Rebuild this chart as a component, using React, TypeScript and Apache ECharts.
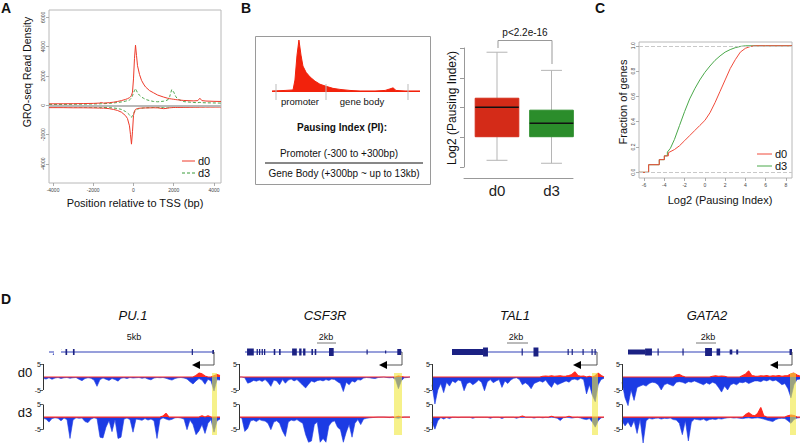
import React, { useEffect, useRef } from "react";
import * as echarts from "echarts";

const FONT = "'Liberation Sans', Arial, Helvetica, sans-serif";

// ---------- Panel A: metagene profile ----------
const aPositions = [-4200, -3500, -3000, -2500, -2000, -1700, -1600, -1500, -1200, -1000,
  -800, -600, -400, -300, -200, -150, -100, -50, 0, 50,
  100, 150, 200, 300, 400, 500, 600, 800, 1000, 1200,
  1500, 1700, 1800, 1900, 2000, 2100, 2200, 2500, 3000, 3200,
  3300, 3400, 3600, 4000, 4350];
const aD0Sense = [100, 105, 110, 120, 130, 150, 190, 150, 180, 210,
  260, 320, 400, 450, 520, 580, 680, 900, 1800, 3200,
  4100, 3400, 2700, 2100, 1700, 1450, 1250, 1000, 850, 700,
  560, 480, 450, 430, 410, 390, 370, 330, 300, 320,
  480, 320, 290, 270, 260];
const aD0Antisense = [-160, -160, -170, -170, -180, -190, -200, -190, -230, -280,
  -350, -470, -700, -900, -1400, -2000, -2650, -1800, -700, -400,
  -280, -240, -220, -200, -190, -185, -180, -175, -170, -175,
  -230, -200, -170, -160, -150, -150, -145, -140, -130, -130,
  -125, -125, -120, -120, -115];
const aD3Sense = [60, 60, 70, 80, 90, 100, 110, 110, 130, 160,
  190, 230, 280, 320, 360, 420, 500, 650, 850, 1000,
  1140, 1000, 850, 680, 560, 480, 400, 320, 260, 240,
  280, 360, 600, 1070, 900, 600, 420, 250, 190, 180,
  200, 180, 170, 160, 150];
const aD3Antisense = [-100, -100, -110, -120, -130, -140, -140, -150, -160, -180,
  -220, -280, -420, -520, -650, -750, -820, -700, -560, -450,
  -360, -300, -260, -220, -200, -180, -170, -160, -150, -150,
  -140, -130, -130, -130, -120, -120, -115, -110, -100, -100,
  -100, -95, -95, -90, -90];
const aTicksX = [-4000, -2000, 0, 2000, 4000];
const aTicksY = [-4000, -2000, 0, 2000, 4000, 6000];

// ---------- Panel B: schematic ----------
const bPositions = [0, 8.8, 14.2, 15.5, 16.9, 18.2, 19.6, 20.9, 23, 25.7, 29, 32.4, 36.5, 41.2, 45.9, 52.7, 59.5, 69.6, 76.4, 79.7, 81.8, 83.8, 89.9, 100];
const bSignal = [2, 3, 4, 23, 71, 100, 71, 50, 38, 29, 21, 15, 11, 7, 5, 3, 2, 2, 3, 6, 8, 3, 2, 2];

// ---------- Panel B: boxplot ----------
const boxGroups = ["d0", "d3"];
const boxLow = [-3.6, -3.8];
const boxQ1 = [-2, -2];
const boxMedian = [0, -1.08];
const boxQ3 = [0.61, -0.2];
const boxHigh = [3.73, 2.5];

// ---------- Panel C: ECDF ----------
const cD0X = [-6.5, -5.55, -5.55, -4.5, -4.5, -4.0, -4.0, -3.6, -3.6, -3.0, -2.5, -2.0, -1.5, -1.0, -0.5, 0, 0.5, 1.0, 1.5, 2.0, 2.5, 3.0, 3.5, 4.0, 4.5, 5.0, 6.0, 8.6];
const cD0Y = [0, 0, 0.06, 0.06, 0.10, 0.10, 0.13, 0.13, 0.155, 0.18, 0.21, 0.25, 0.29, 0.33, 0.37, 0.41, 0.47, 0.55, 0.64, 0.73, 0.82, 0.89, 0.95, 0.98, 0.995, 1, 1, 1];
const cD3X = [-6.5, -5.55, -5.55, -4.5, -4.5, -4.0, -4.0, -3.7, -3.7, -3.4, -3.0, -2.5, -2.0, -1.5, -1.0, -0.5, 0, 0.5, 1.0, 1.5, 2.0, 2.5, 3.0, 3.5, 4.0, 6.0, 8.6];
const cD3Y = [0, 0, 0.06, 0.06, 0.10, 0.10, 0.13, 0.13, 0.16, 0.19, 0.26, 0.37, 0.48, 0.58, 0.66, 0.73, 0.79, 0.84, 0.885, 0.92, 0.95, 0.97, 0.985, 0.995, 1, 1, 1];
const cTicksX = [-6, -4, -2, 0, 2, 4, 6, 8];
const cTicksY = [0, 0.2, 0.4, 0.6, 0.8, 1.0];

// ---------- Panel D: browser tracks ----------
const geneNames = ["PU.1", "CSF3R", "TAL1", "GATA2"];
const scaleLabels = ["5kb", "2kb", "2kb", "2kb"];
const trackNames = ["d0", "d3"];
const trackTicks = [5, -5];

const pu1D0Minus = [-0.5, -0.8, -0.3, -0.9, -0.4, -0.2, -0.6, -0.3, -0.2, -0.5,
  -0.3, -0.2, -0.9, -1.4, -0.6, -0.3, -0.5, -1.2, -3.6, -1.0,
  -0.4, -0.9, -1.3, -0.6, -1.0, -1.6, -0.5, -0.3, -0.6, -0.2,
  -0.4, -0.3, -0.2, -0.5, -0.3, -0.8, -1.1, -0.4, -0.2, -0.3,
  -0.2, -0.5, -0.9, -1.2, -0.6, -0.3, -0.2, -0.4, -0.8, -1.8,
  -2.7, -1.5, -0.6, -1.2, -2.8, -0.9, -1.5, -5.4, -1.0, -1.2];
const pu1D0Plus = [0, 0, 0, 0, 0, 0, 0, 0, 0, 0,
  0, 0, 0, 0, 0, 0, 0, 0, 0, 0,
  0, 0, 0, 0, 0, 0, 0, 0, 0, 0,
  0, 0, 0, 0, 0, 0, 0, 0, 0, 0,
  0, 0, 0, 0, 0, 0, 0, 0, 0, 0,
  0, 0.6, 1.5, 1.2, 0.4, 0, 0, 0.5, 1.0, 0.6];
const pu1D3Minus = [-0.5, -0.8, -2.0, -0.6, -0.3, -0.5, -1.5, -0.4, -1.0, -8.5,
  -1.2, -0.3, -0.5, -0.4, -1.8, -2.2, -0.8, -0.3, -0.6, -8.0,
  -8.3, -4.0, -1.5, -5.8, -1.0, -8.5, -8.0, -0.8, -0.4, -1.0,
  -6.0, -0.8, -1.0, -1.3, -0.6, -1.2, -0.8, -1.5, -8.5, -1.0,
  -0.3, -0.8, -1.2, -0.9, -0.3, -0.2, -0.4, -0.8, -5.0, -1.2,
  -3.0, -7.0, -5.5, -3.0, -6.5, -2.5, -1.0, -6.0, -1.5, -0.8];
const pu1D3Plus = [0, 0, 0, 0, 0, 0, 0, 0, 0, 0,
  0, 0, 0, 0, 0, 0, 0, 0, 0, 0,
  0, 0, 0, 0, 0, 0, 0, 0, 0, 0,
  0, 0, 0, 0, 0, 0, 0, 0, 0, 0,
  0.4, 1.5, 0, 0, 0, 0, 0, 0, 0, 0,
  0, 0, 0, 0.5, 0, 0.5, 0, 0, 0, 0];

const csf3rD0Minus = [0, 0, -0.3, -2.4, -2.0, -1.3, -1.6, -1.2, -1.7, -1.0,
  -2.0, -3.6, -1.2, -1.5, -3.0, -1.0, -2.4, -1.2, -0.8, -1.5,
  -1.0, -2.0, -3.2, -4.2, -2.8, -1.5, -2.0, -1.4, -1.2, -1.5,
  -1.0, -1.3, -0.8, -1.0, -1.8, -2.5, -5.6, -2.0, -3.0, -1.5,
  -2.0, -1.0, -1.2, -0.4, -0.2, -0.3, -0.5, -0.6, -0.2, -0.1,
  0, -0.2, -0.3, -0.2, -1.0, -4.5, -1.5, -0.3, -0.2, 0];
const csf3rD0Plus = [0, 0, 0, 0, 0, 0, 0, 0, 0, 0,
  0, 0, 0, 0, 0, 0, 0, 0, 0, 0,
  0, 0, 0, 0, 0, 0, 0, 0, 0, 0,
  0, 0, 0, 0, 0, 0, 0, 0, 0, 0,
  0, 0, 0, 0, 0, 0, 0, 0, 0, 0,
  0, 0, 0, 0, 0, 0.4, 0.2, 0, 0, 0];
const csf3rD3Minus = [0, -0.5, -5.7, -4.5, -1.5, -1.2, -1.8, -1.0, -1.4, -1.6,
  -2.5, -5.0, -2.0, -1.5, -2.5, -5.5, -7.7, -2.0, -1.2, -1.5,
  -1.0, -1.8, -2.5, -7.0, -10, -9.5, -3.0, -2.0, -10, -8.5,
  -10, -3.5, -2.0, -1.5, -4.0, -5.0, -10, -6.0, -3.0, -8.0,
  -2.5, -1.0, -3.0, -0.8, -0.5, -0.3, -0.2, -0.1, 0, 0,
  0, -0.1, -0.2, 0, -0.3, -0.5, -0.2, 0, 0, 0];
const csf3rD3Plus = [0, 0, 0, 0, 0, 0, 0, 0, 0, 0,
  0, 0, 0, 0, 0, 0, 0, 0, 0, 0,
  0, 0, 0, 0, 0, 0, 0, 0, 0, 0,
  0, 0, 0, 0, 0, 0, 0, 0, 0, 0,
  0, 0, 0, 0, 0, 0, 0, 0, 0, 0,
  0, 0, 0, 0, 0, 0.3, 0, 0, 0, 0];

const tal1D0Minus = [-3.0, -10.4, -5.0, -2.5, -6.0, -2.0, -3.5, -1.5, -2.2, -1.2,
  -1.5, -5.3, -2.5, -2.0, -3.0, -2.2, -1.2, -2.0, -5.3, -1.8,
  -1.0, -2.2, -1.5, -1.0, -4.0, -1.5, -2.5, -1.2, -0.5, -0.3,
  -1.0, -3.0, -2.2, -3.0, -4.5, -2.5, -2.0, -1.5, -2.0, -1.2,
  -2.8, -4.0, -2.0, -3.0, -2.5, -2.0, -1.5, -2.0, -1.0, -0.8,
  -1.2, -0.5, -1.0, -6.5, -3.0, -7.0, -9.5, -3.0, -1.0, -0.5];
const tal1D0Plus = [0, 0, 0, 0, 0, 0, 0, 0, 0, 0,
  0, 0, 0, 0, 0, 0, 0, 0, 0, 0,
  0, 0, 0, 0, 0, 0, 0, 0, 0, 0,
  0, 0, 0, 0, 0, 0, 0, 0, 0.3, 0.4,
  0.3, 0.5, 0.3, 0.4, 0.5, 0.3, 0.4, 0.6, 1.0, 2.0,
  0.6, 0.3, 0.4, 0, 0.3, 0, 0.5, 1.5, 0.6, 0];
const tal1D3Minus = [-2.0, -4.8, -1.5, -0.2, -0.8, -0.2, -0.6, -0.1, -0.1, -0.2,
  -0.1, -0.1, -0.1, -0.1, -0.5, -0.1, -0.1, -0.1, -0.1, -0.1,
  -0.5, -0.1, -0.1, -0.1, -0.6, -0.1, -0.1, -0.1, -0.1, -0.5,
  -0.1, -0.2, -0.1, -0.1, -0.1, -0.4, -0.1, -0.1, -0.3, -0.1,
  -0.2, -0.1, -0.2, -0.5, -1.4, -0.3, -0.1, -0.2, -0.4, -0.2,
  -0.1, -0.4, -0.8, -1.0, -0.6, -2.0, -4.0, -1.5, -0.3, -0.1];
const tal1D3Plus = [0, 0, 0, 0, 0, 0, 0, 0, 0, 0,
  0, 0, 0, 0, 0, 0, 0, 0, 0, 0,
  0, 0, 0, 0, 0, 0, 0, 0, 0, 0,
  0, 0.4, 0, 0, 0, 0, 0, 0, 0, 0,
  0, 0.3, 0, 0, 0, 0, 0, 0.3, 0, 0,
  0, 0, 0, 0, 0, 0, 0, 0, 0, 0];

const gata2D0Minus = [-2.0, -8.0, -11.0, -5.0, -9.0, -4.0, -3.5, -3.0, -3.5, -2.5,
  -2.0, -2.2, -3.0, -5.0, -3.0, -2.5, -3.0, -3.5, -2.0, -1.8,
  -2.0, -2.5, -1.8, -2.0, -1.5, -2.0, -2.5, -3.0, -2.2, -2.8,
  -2.0, -2.5, -4.0, -5.8, -3.5, -5.0, -3.0, -2.5, -3.0, -2.0,
  -2.2, -1.8, -2.5, -2.0, -1.5, -1.5, -1.8, -1.2, -1.5, -1.0,
  -1.5, -1.2, -2.0, -3.0, -2.5, -4.5, -8.0, -3.0, -1.0, -0.8];
const gata2D0Plus = [0, 0, 0, 0, 0, 0, 0, 0, 0, 0,
  0, 0, 0, 0, 0, 0, 0, 0, 0.8, 1.0,
  0.4, 0, 0, 0, 0, 0, 0, 0, 0, 0,
  0.3, 0.5, 0.3, 0.4, 0.3, 0, 0, 0, 0, 0,
  0.6, 1.2, 2.3, 0.6, 0.4, 0.3, 0.5, 0.4, 0.6, 0.3,
  0.5, 0.4, 0.6, 0.3, 0.5, 0.6, 1.2, 1.5, 0.8, 0.3];
const gata2D3Minus = [-1.5, -3.5, -2.0, -4.0, -1.5, -6.5, -1.0, -10.3, -1.5, -0.5,
  -0.8, -0.5, -0.4, -0.8, -0.5, -0.6, -0.4, -1.0, -1.2, -2.5,
  -7.0, -1.5, -9.5, -2.0, -0.8, -1.0, -1.2, -0.8, -1.5, -1.0,
  -0.8, -1.0, -0.6, -0.8, -0.5, -0.3, -0.2, -0.4, -0.3, -0.5,
  -0.6, -0.4, -0.3, -0.5, -0.4, -0.3, -0.5, -0.8, -1.2, -1.5,
  -1.8, -1.0, -0.6, -0.5, -0.6, -1.5, -2.5, -1.0, -0.4, -0.2];
const gata2D3Plus = [0, 0, 0, 0, 0, 0, 0, 0, 0, 0,
  0, 0, 0, 0, 0, 0, 0, 0, 0, 0,
  0, 0, 0, 0, 0, 0, 0, 0, 0, 0,
  0, 0, 0, 0, 0, 0, 0, 0, 0, 0,
  0, 1.0, 1.7, 0.8, 0.5, 1.5, 3.8, 0.5, 0, 0,
  0, 0, 0, 0, 0, 0.5, 0.8, 0.6, 0, 0];

const trackMinus = [[pu1D0Minus, pu1D3Minus], [csf3rD0Minus, csf3rD3Minus], [tal1D0Minus, tal1D3Minus], [gata2D0Minus, gata2D3Minus]];
const trackPlus = [[pu1D0Plus, pu1D3Plus], [csf3rD0Plus, csf3rD3Plus], [tal1D0Plus, tal1D3Plus], [gata2D0Plus, gata2D3Plus]];

// exon structures: [start fraction, end fraction, half height px]
const geneExons = [
  [[0.10, 0.11, 3], [0.145, 0.155, 3], [0.865, 0.872, 3], [0.99, 1.0, 2]],
  [[0.013, 0.056, 3.5], [0.074, 0.082, 3], [0.089, 0.097, 3], [0.106, 0.114, 3], [0.121, 0.129, 3], [0.183, 0.193, 3], [0.217, 0.227, 3], [0.30, 0.33, 3.5], [0.345, 0.36, 3.5], [0.37, 0.385, 3.5], [0.423, 0.433, 3], [0.444, 0.454, 3], [0.535, 0.565, 4], [0.774, 0.78, 2.5], [0.892, 0.897, 1.5], [0.97, 0.995, 3]],
  [[0, 0.214, 3], [0.214, 0.248, 4.5], [0.48, 0.487, 3.5], [0.562, 0.596, 4.5], [0.797, 0.804, 3], [0.825, 0.832, 3], [0.9, 0.907, 3], [0.962, 0.969, 3], [0.983, 0.99, 3]],
  [[0, 0.104, 2.5], [0.104, 0.146, 3.5], [0.18, 0.187, 3.5], [0.332, 0.339, 3.5], [0.47, 0.512, 4], [0.54, 0.562, 3.5], [0.62, 0.636, 2.5], [0.66, 0.672, 2.5], [0.985, 1.0, 3]],
];

// ---------- layout (pixels) ----------
const trackCols = [
  { left: 43, width: 177 },
  { left: 239, width: 171 },
  { left: 432, width: 172 },
  { left: 622, width: 178 },
];
const trackBaselines = [377, 417.5];
const TRACK_MAX = 5;
const TRACK_MIN = -11.5;
const PX_PER_UNIT = 2.6;
const geneCols = [
  { x0: 49, x1: 214, tip: 192, cx: 133, bar: null as null | number[], hx: 212, hw: 5 },
  { x0: 245, x1: 402, tip: 379, cx: 325, bar: [317, 336], hx: 394, hw: 8 },
  { x0: 452, x1: 597, tip: 573, cx: 515, bar: [507, 528], hx: 592, hw: 6 },
  { x0: 628, x1: 792, tip: 770, cx: 707, bar: [696, 716], hx: 790, hw: 6 },
];

const RED_A = "#ee3b2b";
const GREEN_A = "#3a9c3a";
const BLUE_T = "#1c3be4";
const RED_T = "#ff2a22";

function txt(text: string, x: number, y: number, size: number, extra: any = {}) {
  return {
    type: "text",
    x,
    y,
    rotation: extra.rotation || 0,
    z: 50,
    silent: true,
    style: {
      text,
      fontSize: size,
      fontFamily: FONT,
      fontWeight: extra.bold ? "bold" : "normal",
      fontStyle: extra.italic ? "italic" : "normal",
      fill: extra.color || "#111",
      align: extra.align || "center",
      verticalAlign: "middle",
    },
  };
}
function ln(x1: number, y1: number, x2: number, y2: number, stroke: string, lineWidth = 1, extra: any = {}) {
  return { type: "line", z: 40, silent: true, shape: { x1, y1, x2, y2 }, style: { stroke, lineWidth, lineDash: extra.dash || null } };
}

function buildOption() {
  const grid: any[] = [];
  const xAxis: any[] = [];
  const yAxis: any[] = [];
  const series: any[] = [];
  const g: any[] = [];
  const pair = (xs: number[], ys: number[]) => xs.map((x, i) => [x, ys[i]]);
  const tinyLabel = { fontSize: 5, color: "#444", fontFamily: FONT };
  const noLine = { show: false, onZero: false };

  // ===== A (grid 0) =====
  grid.push({ left: 49, top: 10, width: 172, height: 173, show: true, borderColor: "#b8b8b8", borderWidth: 1 });
  xAxis.push({
    gridIndex: 0, type: "value", min: -4200, max: 4350,
    axisLine: noLine, splitLine: { show: false },
    axisTick: { show: true, customValues: aTicksX, length: 3, lineStyle: { color: "#999", width: 0.8 } },
    axisLabel: { ...tinyLabel, customValues: aTicksX, margin: 4, formatter: (v: number) => String(v) },
  });
  yAxis.push({
    gridIndex: 0, type: "value", min: -5300, max: 6500,
    axisLine: noLine, splitLine: { show: false },
    axisTick: { show: true, customValues: aTicksY, length: 3, lineStyle: { color: "#999", width: 0.8 } },
    axisLabel: { ...tinyLabel, customValues: aTicksY, rotate: 90, margin: 4, formatter: (v: number) => String(v) },
  });
  const aCommon = { type: "line", xAxisIndex: 0, yAxisIndex: 0, showSymbol: false, silent: true };
  series.push({
    ...aCommon, name: "d3 antisense", data: pair(aPositions, aD3Antisense),
    lineStyle: { color: GREEN_A, width: 0.9, type: [3, 2] },
    markLine: { silent: true, symbol: "none", label: { show: false }, lineStyle: { color: "#b8b8b8", width: 2, type: "solid" }, data: [{ yAxis: 0 }] },
  });
  series.push({ ...aCommon, name: "d3 sense", data: pair(aPositions, aD3Sense), lineStyle: { color: GREEN_A, width: 0.9, type: [3, 2] } });
  series.push({ ...aCommon, name: "d0 sense", data: pair(aPositions, aD0Sense), lineStyle: { color: RED_A, width: 1 } });
  series.push({ ...aCommon, name: "d0 antisense", data: pair(aPositions, aD0Antisense), lineStyle: { color: RED_A, width: 1 } });

  // ===== B schematic (grid 1) =====
  grid.push({ left: 272, top: 38, width: 148, height: 54 });
  xAxis.push({ gridIndex: 1, type: "value", min: 0, max: 100, show: false });
  yAxis.push({ gridIndex: 1, type: "value", min: 0, max: 104, show: false });
  series.push({
    type: "line", xAxisIndex: 1, yAxisIndex: 1, showSymbol: false, silent: true,
    data: pair(bPositions, bSignal),
    lineStyle: { color: "#f2220c", width: 1 },
    areaStyle: { color: "#f2220c", opacity: 1 },
  });

  // ===== Boxplot axes only (grid 2) =====
  grid.push({ left: 464, top: 48, width: 109, height: 119 });
  xAxis.push({
    gridIndex: 2, type: "value", min: 0, max: 1, offset: 11,
    axisLine: { show: true, onZero: false, lineStyle: { color: "#999", width: 1 } },
    axisTick: { show: false }, axisLabel: { show: false }, splitLine: { show: false },
  });
  yAxis.push({
    gridIndex: 2, type: "value", min: -4, max: 4, interval: 2,
    axisLine: { show: true, onZero: false, lineStyle: { color: "#999", width: 1 } },
    axisTick: { show: true, length: 4, lineStyle: { color: "#999" } },
    axisLabel: { show: false }, splitLine: { show: false },
  });

  // ===== Boxplot (grid 3) =====
  grid.push({ left: 469.75, top: 33.5, width: 109, height: 144.5 });
  xAxis.push({
    gridIndex: 3, type: "category", data: boxGroups,
    axisLine: noLine, axisTick: { show: false },
    axisLabel: { fontSize: 15, color: "#222", margin: 5, fontFamily: FONT },
  });
  yAxis.push({ gridIndex: 3, type: "value", min: -4.8, max: 5, show: false });
  const boxColors = ["#d42b18", "#2b8d2b"];
  series.push({
    type: "custom", xAxisIndex: 3, yAxisIndex: 3, silent: true,
    data: boxGroups.map((_, i) => [i, boxLow[i], boxQ1[i], boxMedian[i], boxQ3[i], boxHigh[i]]),
    encode: { x: 0, y: [1, 2, 3, 4, 5] },
    renderItem: (params: any, api: any) => {
      const xi = api.value(0);
      const low = api.coord([xi, api.value(1)]);
      const q1 = api.coord([xi, api.value(2)]);
      const med = api.coord([xi, api.value(3)]);
      const q3 = api.coord([xi, api.value(4)]);
      const high = api.coord([xi, api.value(5)]);
      const bw = api.size([1, 0])[0] * 0.8;
      const cx = low[0];
      const cap = bw * 0.24;
      const color = boxColors[xi];
      const ws = { stroke: "#b5b5b5", lineWidth: 1 };
      return {
        type: "group",
        children: [
          { type: "line", shape: { x1: cx, y1: high[1], x2: cx, y2: q3[1] }, style: ws },
          { type: "line", shape: { x1: cx, y1: q1[1], x2: cx, y2: low[1] }, style: ws },
          { type: "line", shape: { x1: cx - cap, y1: high[1], x2: cx + cap, y2: high[1] }, style: ws },
          { type: "line", shape: { x1: cx - cap, y1: low[1], x2: cx + cap, y2: low[1] }, style: ws },
          { type: "rect", shape: { x: cx - bw / 2, y: q3[1], width: bw, height: q1[1] - q3[1] }, style: { fill: color, stroke: color, lineWidth: 1 } },
          { type: "line", shape: { x1: cx - bw / 2, y1: med[1], x2: cx + bw / 2, y2: med[1] }, style: { stroke: "#111", lineWidth: 1.5 } },
        ],
      };
    },
  });

  // ===== C (grid 4) =====
  grid.push({ left: 639, top: 42, width: 153, height: 136, show: true, borderColor: "#b8b8b8", borderWidth: 1 });
  xAxis.push({
    gridIndex: 4, type: "value", min: -6.5, max: 8.6,
    axisLine: noLine, splitLine: { show: false },
    axisTick: { show: true, customValues: cTicksX, length: 3, lineStyle: { color: "#999", width: 0.8 } },
    axisLabel: { ...tinyLabel, customValues: cTicksX, margin: 4 },
  });
  yAxis.push({
    gridIndex: 4, type: "value", min: -0.045, max: 1.03,
    axisLine: noLine, splitLine: { show: false },
    axisTick: { show: true, customValues: cTicksY, length: 3, lineStyle: { color: "#999", width: 0.8 } },
    axisLabel: { ...tinyLabel, customValues: cTicksY, rotate: 90, margin: 4, formatter: (v: number) => v.toFixed(1) },
  });
  series.push({
    type: "line", xAxisIndex: 4, yAxisIndex: 4, showSymbol: false, silent: true,
    data: pair(cD3X, cD3Y), lineStyle: { color: "#4aa84a", width: 1 },
    markLine: { silent: true, symbol: "none", label: { show: false }, lineStyle: { color: "#c8c8c8", width: 1, type: "dashed" }, data: [{ yAxis: 0 }, { yAxis: 1 }] },
  });
  series.push({
    type: "line", xAxisIndex: 4, yAxisIndex: 4, showSymbol: false, silent: true,
    data: pair(cD0X, cD0Y), lineStyle: { color: "#f04a3a", width: 1 },
  });

  // ===== D tracks (grids 5..12) =====
  const idx = Array.from({ length: 60 }, (_, i) => String(i));
  let gi = 5;
  trackCols.forEach((col, c) => {
    trackBaselines.forEach((base, r) => {
      grid.push({ left: col.left, width: col.width, top: base - TRACK_MAX * PX_PER_UNIT, height: (TRACK_MAX - TRACK_MIN) * PX_PER_UNIT });
      xAxis.push({ gridIndex: gi, type: "category", data: idx, boundaryGap: false, show: false, axisLine: noLine });
      yAxis.push({
        gridIndex: gi, type: "value", min: TRACK_MIN, max: TRACK_MAX,
        axisLine: noLine, splitLine: { show: false },
        axisTick: { show: true, customValues: trackTicks, length: 3, lineStyle: { color: "#333", width: 0.8 } },
        axisLabel: { show: true, customValues: trackTicks, fontSize: 7, margin: 2, color: "#222", fontFamily: FONT },
      });
      series.push({
        type: "line", xAxisIndex: gi, yAxisIndex: gi, showSymbol: false, silent: true, clip: false,
        data: trackMinus[c][r],
        lineStyle: { color: BLUE_T, width: 0.6 },
        areaStyle: { color: BLUE_T, opacity: 1 },
        markLine: {
          silent: true, symbol: "none", label: { show: false },
          lineStyle: { color: "#333", width: 1, type: "solid" },
          data: [[{ coord: [0, trackTicks[0]] }, { coord: [0, trackTicks[1]] }]],
        },
      });
      series.push({
        type: "line", xAxisIndex: gi, yAxisIndex: gi, showSymbol: false, silent: true, clip: false,
        data: trackPlus[c][r],
        lineStyle: { color: RED_T, width: 1.1 },
        areaStyle: { color: RED_T, opacity: 1 },
      });
      gi++;
    });
  });

  // ===== graphic decorations / texts =====
  g.push(txt("A", 6, 8, 14, { bold: true }));
  g.push(txt("B", 246, 8, 14, { bold: true }));
  g.push(txt("C", 600, 8, 14, { bold: true }));
  g.push(txt("D", 6, 299, 14, { bold: true }));

  // A titles + legend
  g.push(txt("GRO-seq Read Density", 27, 72, 10.5, { rotation: Math.PI / 2 }));
  g.push(txt("Position relative to TSS (bp)", 135, 203, 11));
  g.push(ln(182, 161, 195, 161, RED_A, 1));
  g.push(txt("d0", 198, 161, 11, { align: "left" }));
  g.push(ln(182, 173, 195, 173, GREEN_A, 1, { dash: [3, 2] }));
  g.push(txt("d3", 198, 173, 11, { align: "left" }));

  // B schematic frame + labels
  g.push({ type: "rect", z: 5, silent: true, shape: { x: 255.5, y: 36.5, width: 175, height: 148 }, style: { fill: "none", stroke: "#9a9a9a", lineWidth: 1 } });
  [276, 326, 408].forEach((x) => g.push(ln(x, 84, x, 100, "#bbbbbb", 1)));
  g.push(txt("promoter", 300, 101, 9.5));
  g.push(txt("gene body", 362, 101, 9.5));
  g.push(txt("Pausing Index (PI):", 342, 127, 10, { bold: true }));
  g.push(txt("Promoter (-300 to +300bp)", 339, 153, 10));
  g.push(ln(265, 163, 423, 163, "#111", 1));
  g.push(txt("Gene Body (+300bp ~ up to 13kb)", 344, 173, 10));

  // boxplot annotation
  g.push({ type: "polyline", z: 40, silent: true, shape: { points: [[498, 48], [498, 40.5], [552, 40.5], [552, 64]] }, style: { stroke: "#999", lineWidth: 1, fill: "none" } });
  g.push(txt("p<2.2e-16", 525, 32, 10));
  g.push(txt("Log2 (Pausing Index)", 452, 108, 12, { rotation: Math.PI / 2 }));

  // C titles + legend
  g.push(txt("Fraction of genes", 623, 102, 11, { rotation: Math.PI / 2 }));
  g.push(txt("Log2 (Pausing Index)", 720, 200, 11));
  g.push(ln(757, 154, 772, 154, "#f04a3a", 1));
  g.push(txt("d0", 775, 154, 11, { align: "left" }));
  g.push(ln(757, 166, 772, 166, "#4aa84a", 1));
  g.push(txt("d3", 775, 166, 11, { align: "left" }));

  // D labels
  g.push(txt(trackNames[0], 25, 372, 13));
  g.push(txt(trackNames[1], 25, 412, 13));
  geneCols.forEach((gc, c) => {
    g.push(txt(geneNames[c], gc.cx, 315, 13, { italic: true }));
    g.push(txt(scaleLabels[c], gc.cx + 1, 337, 9));
    if (gc.bar) g.push(ln(gc.bar[0], 343, gc.bar[1], 343, "#777", 1));
    const y = 352;
    g.push(ln(gc.x0, y, gc.x1, y, "#3040b8", 1.1));
    const span = gc.x1 - gc.x0;
    geneExons[c].forEach((e) => {
      const x = gc.x0 + e[0] * span;
      const w = Math.max(1.2, (e[1] - e[0]) * span);
      g.push({ type: "rect", z: 41, silent: true, shape: { x, y: y - e[2], width: w, height: e[2] * 2 }, style: { fill: "#1b2183" } });
    });
    g.push({ type: "polyline", z: 41, silent: true, shape: { points: [[gc.x1, y], [gc.x1, 365], [gc.tip + 7, 365]] }, style: { stroke: "#444", lineWidth: 0.9, fill: "none" } });
    g.push({ type: "polygon", z: 42, silent: true, shape: { points: [[gc.tip, 365], [gc.tip + 8, 361], [gc.tip + 8, 369]] }, style: { fill: "#000" } });
    g.push({ type: "rect", z: 100, silent: true, shape: { x: gc.hx, y: 373, width: gc.hw, height: 62 }, style: { fill: "rgba(240,232,60,0.6)" } });
  });
  // PU.1 break mark
  g.push({ type: "rect", z: 41, silent: true, shape: { x: 54, y: 349, width: 7, height: 6 }, style: { fill: "#fff" } });
  g.push(ln(53, 355, 57, 349, "#3040b8", 1));
  g.push(ln(57, 355, 61, 349, "#3040b8", 1));

  return {
    animation: false,
    backgroundColor: "#ffffff",
    textStyle: { fontFamily: FONT },
    grid,
    xAxis,
    yAxis,
    series,
    graphic: g,
  };
}

export default function App() {
  const ref = useRef<HTMLDivElement>(null);
  useEffect(() => {
    if (!ref.current) return;
    const chart = echarts.init(ref.current, null, { renderer: "svg", width: 800, height: 446 });
    chart.setOption(buildOption() as any);
    return () => chart.dispose();
  }, []);
  return (
    <div
      ref={ref}
      style={{ position: "fixed", left: 0, top: 0, width: 800, height: 446, background: "#fff" }}
    />
  );
}
